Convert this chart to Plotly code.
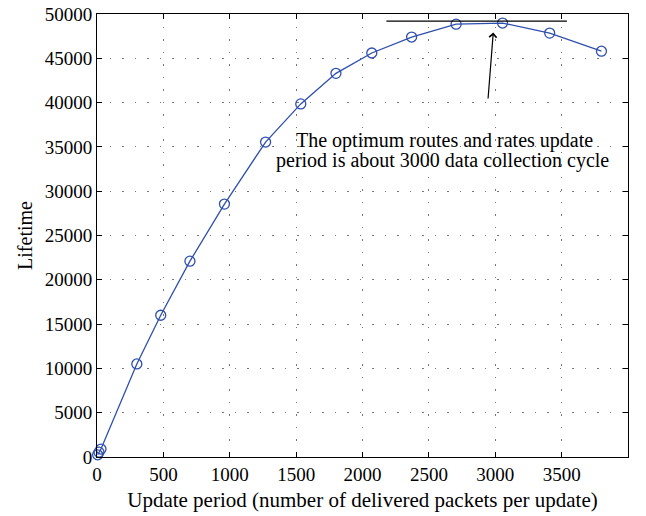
import plotly.graph_objects as go

period = [5, 15, 30, 300, 480, 700, 960, 1270, 1535, 1800, 2070, 2370, 2705, 3055, 3410, 3800]
lifetime = [250, 550, 900, 10500, 16000, 22100, 28550, 35550, 39850, 43300, 45600, 47400, 48850, 48980, 47850, 45800]

x_ticks = [0, 500, 1000, 1500, 2000, 2500, 3000, 3500, 4000]
y_ticks = [0, 5000, 10000, 15000, 20000, 25000, 30000, 35000, 40000, 45000, 50000]

note_lines = ["The optimum routes and rates update",
              "period is about 3000 data collection cycle"]

font = "Liberation Serif"
fig = go.Figure()
fig.add_trace(go.Scatter(
    x=period, y=lifetime, mode="lines+markers",
    line=dict(color="#2f4fad", width=1.3),
    marker=dict(symbol="circle-open", size=10, color="#2f4fad", line=dict(width=1.3)),
    showlegend=False, cliponaxis=False))

# horizontal reference line at optimum
fig.add_shape(type="line", x0=2180, x1=3540, y0=49200, y1=49200,
              line=dict(color="black", width=1.3))
# arrow
fig.add_annotation(x=2985, y=47900, ax=2945, ay=40300, xref="x", yref="y",
                   axref="x", ayref="y", showarrow=True, arrowhead=4,
                   arrowsize=1.2, arrowwidth=1.2, arrowcolor="black", text="")
fig.add_annotation(x=2621, y=35670, xref="x", yref="y", showarrow=False,
                   text=note_lines[0], bgcolor="rgba(0,0,0,0)",
                   font=dict(family=font, size=20, color="black"))
fig.add_annotation(x=2599, y=33520, xref="x", yref="y", showarrow=False,
                   text=note_lines[1],
                   font=dict(family=font, size=20, color="black"))

axis_common = dict(showline=True, linecolor="black", linewidth=1, mirror="ticks",
                   ticks="inside", ticklen=5, tickcolor="black", automargin=False,
                   showgrid=True, gridcolor="#777", griddash="1.5px,11px", gridwidth=1.2,
                   zeroline=False, tickfont=dict(family=font, size=19, color="black"))
fig.update_xaxes(range=[0, 4000], tickvals=x_ticks, ticktext=[str(v) for v in x_ticks],
                 title=dict(text="Update period (number of delivered packets per update)",
                            font=dict(family=font, size=21, color="black"), standoff=8),
                 **axis_common)
fig.update_yaxes(range=[0, 50000], tickvals=y_ticks, ticktext=[str(v) for v in y_ticks],
                 title=dict(text="Lifetime", font=dict(family=font, size=20, color="black"), standoff=6),
                 **axis_common)
fig.update_layout(width=646, height=516, margin=dict(l=97, r=18, t=14, b=59),
                  plot_bgcolor="white", paper_bgcolor="white")
fig.write_html("out.html")
